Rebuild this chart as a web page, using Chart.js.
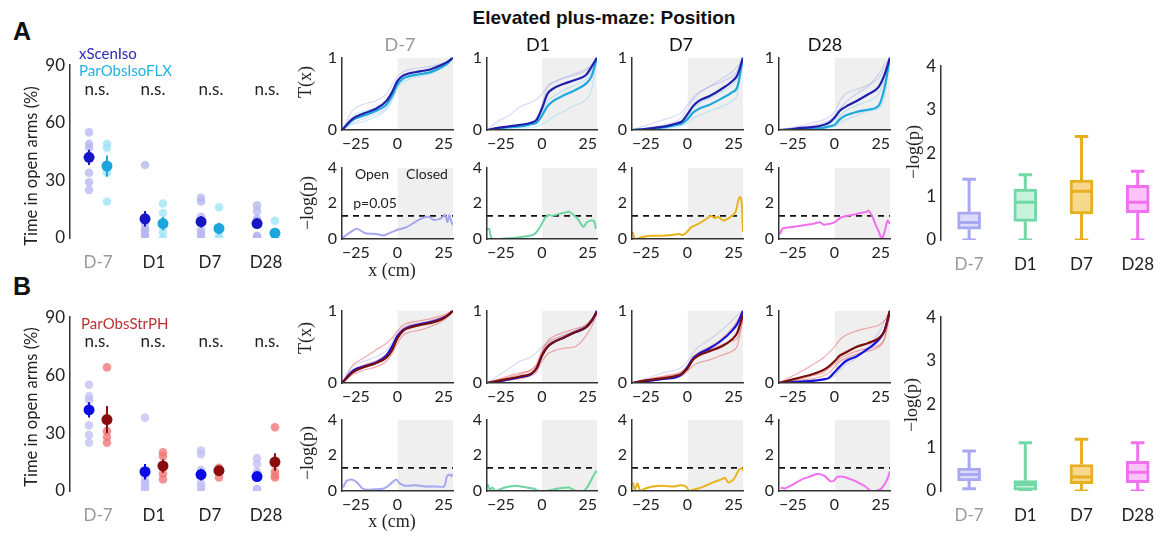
<!DOCTYPE html>
<html><head><meta charset="utf-8">
<script src="https://cdn.jsdelivr.net/npm/chart.js@4.4.1/dist/chart.umd.min.js"></script>
<style>
html,body{margin:0;padding:0;background:#fff;width:1164px;height:537px;overflow:hidden;position:relative;font-family:Lato,sans-serif;}
canvas{position:absolute;}
.t{position:absolute;white-space:nowrap;transform:translate(-50%,-50%);line-height:1;color:#222;}
.l{transform:translate(0,-50%);}
.r{transform:translate(-50%,-50%) rotate(-90deg);}
.serif{font-family:"Liberation Serif",serif;}
</style></head><body>
<script>
// ---------- DATA ----------
const cats = ['D-7','D1','D7','D28'];
// dot plots (time in open arms, %)
const scenMean = [42, 10, 8.5, 7.5];
const scenSE = [4, 4, 3, 2];
const scenPts = [[55,49,47,34,29,25],[38,8,5,4,2,1],[21,19,11,4,2,0],[17,14,10,9,1,1]];
const isoMean = [37.5, 7.5, 5, 2.5];
const isoSE = [5.5, 3.5, 3, 1.5];
const isoPts = [[49,47,34,19],[18,13,3,0],[16,1,0],[9,1,0]];
const strMean = [37, 13, 10.5, 15];
const strSE = [7, 3.5, 2, 4.5];
const strPts = [[64,31,28,25],[20,18,9,6],[12,10,7],[33,10,8,7]];

// T(x) curves
const tx = [-25,-20,-15,-10,-5,-2.5,0,2.5,5,10,15,20,22.5,25];
const tA_scenMean = [
 [0,0.16,0.23,0.29,0.40,0.52,0.68,0.75,0.78,0.81,0.84,0.90,0.94,1],
 [0,0.03,0.05,0.07,0.10,0.14,0.30,0.50,0.57,0.64,0.69,0.76,0.87,1],
 [0,0.01,0.03,0.05,0.09,0.12,0.22,0.33,0.40,0.47,0.56,0.67,0.76,1],
 [0,0.01,0.03,0.04,0.07,0.10,0.17,0.27,0.32,0.40,0.49,0.60,0.76,1]];
const tA_isoMean = [
 [0,0.14,0.20,0.26,0.35,0.47,0.63,0.71,0.74,0.77,0.80,0.87,0.92,1],
 [0,0.02,0.04,0.05,0.08,0.10,0.20,0.33,0.40,0.48,0.55,0.64,0.74,1],
 [0,0.01,0.02,0.04,0.07,0.09,0.15,0.24,0.29,0.35,0.43,0.52,0.60,1],
 [0,0.00,0.01,0.02,0.03,0.05,0.07,0.15,0.20,0.25,0.28,0.34,0.58,1]];
const tA_scenInd = [
 [[0,0.28,0.36,0.40,0.50,0.62,0.74,0.80,0.83,0.86,0.88,0.92,0.95,1],[0,0.10,0.16,0.22,0.30,0.42,0.60,0.70,0.75,0.80,0.83,0.88,0.93,1]],
 [[0,0.12,0.20,0.32,0.38,0.42,0.50,0.60,0.65,0.72,0.78,0.84,0.90,1],[0,0.02,0.04,0.06,0.08,0.12,0.35,0.60,0.66,0.72,0.76,0.82,0.90,1]],
 [[0,0.05,0.10,0.15,0.20,0.25,0.35,0.45,0.52,0.60,0.70,0.80,0.88,1],[0,0.02,0.04,0.07,0.12,0.18,0.30,0.42,0.50,0.60,0.66,0.74,0.82,1]],
 [[0,0.03,0.06,0.10,0.14,0.18,0.25,0.40,0.50,0.56,0.62,0.72,0.85,1],[0,0.02,0.04,0.06,0.10,0.13,0.20,0.30,0.38,0.50,0.60,0.78,0.90,1]]];
const tA_isoInd = [
 [[0,0.08,0.12,0.18,0.28,0.40,0.58,0.66,0.70,0.74,0.78,0.85,0.90,1],[0,0.20,0.26,0.30,0.38,0.50,0.66,0.74,0.78,0.80,0.83,0.90,0.94,1]],
 [[0,0.01,0.02,0.03,0.04,0.05,0.08,0.12,0.18,0.26,0.34,0.42,0.55,1],[0,0.02,0.05,0.07,0.10,0.14,0.25,0.40,0.46,0.55,0.62,0.70,0.80,1]],
 [[0,0.00,0.01,0.02,0.04,0.06,0.10,0.16,0.20,0.26,0.32,0.40,0.50,1],[0,0.02,0.04,0.06,0.10,0.12,0.20,0.30,0.36,0.44,0.52,0.62,0.72,1]],
 [[0,0.00,0.00,0.01,0.02,0.03,0.05,0.10,0.14,0.20,0.26,0.30,0.45,1],[0,0.01,0.02,0.03,0.05,0.08,0.12,0.20,0.26,0.34,0.40,0.50,0.70,1]]];
const tB_scenMean = [
 [0,0.17,0.23,0.28,0.38,0.50,0.65,0.73,0.77,0.81,0.84,0.89,0.93,1],
 [0,0.02,0.05,0.08,0.12,0.20,0.38,0.50,0.56,0.63,0.70,0.77,0.85,1],
 [0,0.02,0.04,0.06,0.08,0.12,0.22,0.34,0.40,0.48,0.58,0.72,0.82,1],
 [0,0.01,0.02,0.03,0.05,0.07,0.15,0.23,0.30,0.37,0.47,0.60,0.72,1]];
const tB_strMean = [
 [0,0.15,0.22,0.27,0.35,0.45,0.62,0.72,0.76,0.80,0.83,0.88,0.93,1],
 [0,0.03,0.06,0.09,0.13,0.20,0.38,0.50,0.56,0.63,0.70,0.77,0.86,0.98],
 [0,0.03,0.05,0.07,0.10,0.13,0.20,0.32,0.38,0.44,0.50,0.60,0.70,0.95],
 [0,0.04,0.08,0.12,0.18,0.23,0.30,0.38,0.42,0.50,0.55,0.62,0.72,1]];
const tB_scenInd = [
 [[0,0.24,0.30,0.36,0.45,0.56,0.70,0.76,0.80,0.83,0.86,0.90,0.94,1]],
 [[0,0.10,0.20,0.30,0.36,0.42,0.50,0.56,0.60,0.66,0.72,0.80,0.88,1]],
 [[0,0.05,0.10,0.15,0.18,0.22,0.30,0.42,0.50,0.60,0.72,0.86,0.94,1]],
 [[0,0.01,0.02,0.03,0.04,0.06,0.10,0.18,0.25,0.35,0.50,0.70,0.85,1]]];
const tB_strInd = [
 [[0,0.25,0.35,0.45,0.55,0.62,0.72,0.80,0.83,0.86,0.89,0.93,0.96,1],[0,0.12,0.18,0.22,0.30,0.40,0.55,0.66,0.70,0.73,0.78,0.85,0.91,1],[0,0.18,0.25,0.30,0.40,0.52,0.66,0.75,0.79,0.82,0.86,0.91,0.95,1]],
 [[0,0.04,0.08,0.12,0.18,0.26,0.45,0.58,0.64,0.70,0.75,0.80,0.88,0.98],[0,0.02,0.04,0.06,0.10,0.15,0.30,0.40,0.44,0.48,0.50,0.65,0.78,0.95],[0,0.05,0.10,0.14,0.18,0.24,0.42,0.55,0.60,0.66,0.72,0.80,0.88,1]],
 [[0,0.04,0.07,0.10,0.13,0.16,0.24,0.36,0.42,0.50,0.60,0.75,0.86,1],[0,0.02,0.04,0.06,0.08,0.10,0.16,0.24,0.28,0.32,0.38,0.44,0.52,0.90],[0,0.03,0.06,0.09,0.12,0.16,0.22,0.34,0.40,0.46,0.52,0.58,0.62,0.88]],
 [[0,0.08,0.16,0.25,0.35,0.42,0.50,0.60,0.66,0.72,0.76,0.80,0.86,1],[0,0.02,0.04,0.06,0.10,0.14,0.22,0.30,0.34,0.40,0.44,0.50,0.60,0.95],[0,0.03,0.06,0.10,0.14,0.20,0.26,0.34,0.38,0.44,0.48,0.52,0.62,0.98]]];

// -log(p) curves
const pThresh = 1.3;
const pA_x = [
 [-25,-18.5,-14.5,-9.6,-6.4,-2.3,0.4,4.2,10,14,16.5,19.8,21.4,22.5,23.3,24.3,25],
 [-25,-24,-23,-20,-15,-10.4,-5.6,-3.3,-0.9,1.5,3,4.6,7,10.2,12.5,14,16.4,18.8,20.4,22,23.7,24.5],
 [-24.7,-23.9,-22.8,-20.7,-16.7,-11.9,-7,-3.8,-2.2,-0.6,1.8,4.2,7.4,10.6,12.2,13.8,16.2,18.6,20.2,21.8,23.1,23.9,24.5,25],
 [-24.5,-23.4,-19,-14.4,-9.7,-6.6,-5,-1.9,0.5,2.8,5.9,9,12.2,14.5,15.3,16.9,18.4,20,21.2,22.3,23.9,25]];
const pA_y = [
 [0.05,0.58,0.32,0.28,0.20,0.40,0.53,0.67,1.10,1.24,1.06,1.17,1.38,0.94,1.35,0.94,0.76],
 [0.55,0.58,0.05,0,0.04,0.10,0.18,0.28,0.67,1.20,1.35,1.30,1.38,1.47,1.52,1.38,1.10,0.67,0.94,1.03,1.00,0.58],
 [0.40,0.05,0,0.10,0.18,0.18,0.23,0.28,0.23,0.35,0.67,0.81,1.03,1.30,1.17,1.24,1.03,1.17,1.30,1.56,2.27,2.35,1.90,0.40],
 [0.28,0.58,0.67,0.76,0.85,0.94,0.81,0.85,0.97,1.20,1.30,1.38,1.47,1.52,1.60,1.30,0.85,0.40,0,0.28,1.03,0.85]];
const pB_x = [
 [-24.5,-23,-20.6,-18.2,-15.8,-13.4,-9.4,-6.2,-3.8,-1.7,-0.6,1,3.4,8.2,13,17.8,21,22.3,23.4,24.2,25],
 [-24.7,-23.7,-22.6,-21,-16.9,-12,-7.1,-3.9,-1.5,2.6,7.5,12.3,14,15.6,18.8,20.5,22.9,24.5,25],
 [-24.5,-23.7,-22.5,-21.3,-19,-15.8,-11,-6.3,-3.1,-0.7,0.9,2.5,6.4,11.2,15.2,16.8,18.4,20.8,23.2,24.5,25],
 [-24.2,-22.6,-19.4,-14.7,-10.7,-7.5,-4.4,-2,-0.4,1.2,4.4,7.5,10.7,13.9,16.3,18.7,21.1,23.4,25]];
const pB_y = [
 [0.20,0.56,0.65,0.47,0.14,0.07,0.10,0.14,0.32,0.56,0.65,0.43,0.29,0.32,0.25,0.25,0.25,0.83,0.92,0.83,0.95],
 [0.38,0.07,0.20,0,0.20,0.29,0.20,0.14,0,0.02,0.14,0.20,0.07,0,0,0.20,0.74,1.10,1.05],
 [0.47,0.07,0.43,0.02,0.14,0.25,0.29,0.25,0.32,0.25,0,0.07,0.20,0.47,0.65,0.74,0.47,0.65,1.19,1.28,1.15],
 [0.20,0.14,0.32,0.65,0.83,0.97,0.83,0.56,0.56,0.79,0.79,0.65,0.47,0.25,0,0,0.14,0.56,1.10]];

// box plots of -log(p)
const boxA_min = [0,0,0,0], boxA_q1 = [0.25,0.43,0.60,0.63], boxA_med = [0.40,0.87,1.12,0.87], boxA_q3 = [0.65,1.17,1.38,1.26], boxA_max = [1.40,1.50,2.38,1.58];
const boxB_min = [0.05,0,0,0], boxB_q1 = [0.23,0.02,0.17,0.19], boxB_med = [0.38,0.15,0.32,0.43], boxB_q3 = [0.53,0.24,0.61,0.68], boxB_max = [0.92,1.11,1.19,1.11];
const shadeX = [0, 25];

// ---------- STYLE ----------
const pColors = ['#a6a6f2','#6cd6a0','#e8b41e','#f070ee'];
const boxStroke = ['#a8a8f2','#72d8a6','#e6b022','#f070f0'];
const boxFill = ['#dcdcfa','#c8f2dc','#f6d98c','#fcc2fc'];
const AX = '#333';
Chart.defaults.font.family = 'Lato';
Chart.defaults.font.size = 17;
Chart.defaults.color = '#222';

function mk(area, yW, xH, type, datasets, scales) {
  const padT = 12, padR = 14;
  const left = area[0]-yW, top = area[1]-padT;
  const w = area[2]-area[0]+yW+padR, h = area[3]-area[1]+padT+xH;
  const cv = document.createElement('canvas');
  cv.width = w; cv.height = h;
  cv.style.left = left+'px'; cv.style.top = top+'px';
  cv.style.width = w+'px'; cv.style.height = h+'px';
  document.body.appendChild(cv);
  scales.x.afterFit = s => { s.height = xH; };
  scales.y.afterFit = s => { s.width = yW; };
  return new Chart(cv, {type, data:{datasets}, options:{
    responsive:false, devicePixelRatio:1, animation:false,
    layout:{padding:{top:padT, right:padR, left:0, bottom:0}},
    scales, plugins:{legend:{display:false}, tooltip:{enabled:false}}}});
}
const minus = v => String(v).replace('-', '\u2212');
const yAxis = (min, max, step, fs) => ({type:'linear', min, max, ticks:{stepSize:step, padding:5, font:{size:fs||17}, callback:v=>minus(v)},
  grid:{display:true, drawOnChartArea:false, drawTicks:false}, border:{display:true, color:AX, width:1.5, z:1}});
const catAxis = (max) => ({type:'linear', min:0.5, max, offset:false,
  afterBuildTicks: s => { s.ticks = cats.map((c,i)=>({value:i+1})); },
  ticks:{callback:v=>cats[v-1], padding:6, color:ctx=>ctx.index===0?'#999':'#222'},
  grid:{display:false, offset:false}, border:{display:false}});
const xy = (xs, ys) => xs.map((x,i)=>({x, y:ys[i]}));

// ---------- DOT PLOTS ----------
function dotPlot(area, groups) {
  const ds = [];
  groups.forEach(g => {
    ds.push({type:'scatter', data:g.pts.flatMap((a,i)=>a.map(v=>({x:i+1+g.off, y:v}))), pointRadius:4.3, pointBackgroundColor:g.light, pointBorderWidth:0, order:5});
    ds.push({type:'scatter', showLine:true, spanGaps:false, data:g.mean.flatMap((m,i)=>[{x:i+1+g.off,y:m-g.se[i]},{x:i+1+g.off,y:m+g.se[i]},{x:i+1+g.off,y:null}]), borderColor:g.dark, borderWidth:2, pointRadius:0, order:2});
    ds.push({type:'scatter', data:g.mean.map((m,i)=>({x:i+1+g.off, y:m})), pointRadius:5.5, pointBackgroundColor:g.dark, pointBorderWidth:0, order:1});
  });
  mk(area, 40, 30, 'scatter', ds, {x:catAxis(4.5), y:yAxis(0,90,30)});
}
dotPlot([70,62,294,238], [
  {pts:scenPts, mean:scenMean, se:scenSE, off:-0.16, light:'rgba(180,180,240,0.75)', dark:'#1616c4'},
  {pts:isoPts, mean:isoMean, se:isoSE, off:0.16, light:'rgba(160,228,248,0.8)', dark:'#1aa6dc'}]);
dotPlot([70,314,294,491], [
  {pts:scenPts, mean:scenMean, se:scenSE, off:-0.16, light:'rgba(190,190,244,0.75)', dark:'#0a0ae6'},
  {pts:strPts, mean:strMean, se:strSE, off:0.16, light:'rgba(240,120,120,0.8)', dark:'#8a0c0c'}]);

// ---------- T(x) and -log(p) PANELS ----------
const colsX = [[342,453],[487,597],[632,743],[779,890]];
const xAxisT = () => ({type:'linear', min:-25, max:25, ticks:{stepSize:25, align:'inner', padding:4, font:{size:16}, callback:v=>minus(v)},
  grid:{display:true, drawOnChartArea:false, drawTicks:false}, border:{display:true, color:AX, width:1.5, z:1}});
const shade = top => ({data:shadeX.map(x=>({x, y:top})), fill:'origin', backgroundColor:'#efefef', borderWidth:0, pointRadius:0, order:20});
const curve = (ys, color, w, ord) => ({data:xy(tx, ys), borderColor:color, borderWidth:w, pointRadius:0, cubicInterpolationMode:'monotone', fill:false, order:ord});

function tPanel(area, means, inds) {
  const ds = [shade(1)];
  inds.forEach(([arrs,col]) => arrs.forEach(a => ds.push(curve(a, col, 1.2, 10))));
  means.forEach(([a,col],k) => ds.push(curve(a, col, 2.2, 2-k)));
  mk(area, 22, 30, 'line', ds, {x:xAxisT(), y:yAxis(0,1,1,16)});
}
function pPanel(area, xs, ys, col) {
  const ds = [shade(4),
    {data:[-25,25].map(x=>({x, y:pThresh})), borderColor:'#111', borderWidth:1.8, borderDash:[6,5], pointRadius:0, fill:false, order:2},
    {data:xy(xs, ys), borderColor:col, borderWidth:2, pointRadius:0, tension:0.2, fill:false, order:1}];
  mk(area, 22, 30, 'line', ds, {x:xAxisT(), y:yAxis(0,4,2,16)});
}
colsX.forEach((cx,i) => {
  tPanel([cx[0],55,cx[1],130], [[tA_isoMean[i],'#1ea8dc'],[tA_scenMean[i],'#2020ae']],
    [[tA_scenInd[i],'rgba(150,150,232,0.35)'],[tA_isoInd[i],'rgba(120,210,240,0.4)']]);
  pPanel([cx[0],165,cx[1],239], pA_x[i], pA_y[i], pColors[i]);
  tPanel([cx[0],308,cx[1],383], [[tB_scenMean[i],'#1414e0'],[tB_strMean[i],'#7a0c0c']],
    [[tB_scenInd[i],'rgba(150,150,232,0.35)'],[tB_strInd[i],'rgba(232,90,90,0.5)']]);
  pPanel([cx[0],417,cx[1],491], pB_x[i], pB_y[i], pColors[i]);
});

// ---------- BOX PLOTS ----------
function boxChart(area, mn, q1, md, q3, mx) {
  const ds = [{type:'bar', data:cats.map((c,i)=>({x:i+1, y:[q1[i], q3[i]]})), backgroundColor:boxFill, borderColor:boxStroke,
    borderWidth:3, borderSkipped:false, barThickness:23, order:2}];
  cats.forEach((c,i) => {
    const x = i+1, cw = 0.12, mw = 0.2;
    ds.push({type:'line', data:[{x,y:mn[i]},{x,y:q1[i]},{x,y:null},{x,y:q3[i]},{x,y:mx[i]},{x,y:null},
      {x:x-cw,y:mx[i]},{x:x+cw,y:mx[i]},{x,y:null},{x:x-cw,y:mn[i]},{x:x+cw,y:mn[i]},{x,y:null},
      {x:x-mw,y:md[i]},{x:x+mw,y:md[i]}], borderColor:boxStroke[i], borderWidth:3, pointRadius:0, spanGaps:false, fill:false, order:1});
  });
  mk(area, 24, 30, 'bar', ds, {x:catAxis(4.45), y:yAxis(0,4,1)});
}
boxChart([941,63,1163,240], boxA_min, boxA_q1, boxA_med, boxA_q3, boxA_max);
boxChart([941,314,1163,491], boxB_min, boxB_q1, boxB_med, boxB_q3, boxB_max);

// ---------- TEXT ----------
function txt(s, x, y, style, cls) {
  const d = document.createElement('div');
  d.className = 't ' + (cls||'');
  d.textContent = s;
  d.style.left = x+'px'; d.style.top = y+'px';
  Object.assign(d.style, style||{});
  document.body.appendChild(d);
}
txt('Elevated plus-maze: Position', 604, 17, {fontFamily:'"Liberation Sans",Arial,sans-serif', fontWeight:'bold', fontSize:'19px', color:'#111'});
txt('A', 22, 31, {fontFamily:'"Liberation Sans",Arial,sans-serif', fontWeight:'bold', fontSize:'25px', color:'#111'});
txt('B', 22, 286, {fontFamily:'"Liberation Sans",Arial,sans-serif', fontWeight:'bold', fontSize:'25px', color:'#111'});
txt('xScenIso', 79, 53, {fontSize:'15px', color:'#2a2ab8'}, 'l');
txt('ParObsIsoFLX', 79, 70, {fontSize:'15px', color:'#22b2e2'}, 'l');
txt('ParObsStrPH', 81, 323, {fontSize:'15px', color:'#c03030'}, 'l');
[97,153,211,267].forEach(x => { txt('n.s.', x, 88, {fontSize:'17px'}); txt('n.s.', x, 340, {fontSize:'17px'}); });
txt('Time in open arms (%)', 31, 166, {fontSize:'16.5px'}, 'r');
txt('Time in open arms (%)', 31, 407, {fontSize:'16.5px'}, 'r');
[['D-7',400,'#999'],['D1',538,'#111'],['D7',681,'#111'],['D28',825,'#111']].forEach(([s,x,c]) => txt(s, x, 44, {fontSize:'18px', color:c}));
txt('T(x)', 305, 82, {fontSize:'18px'}, 'serif r');
txt('T(x)', 305, 338, {fontSize:'18px'}, 'serif r');
txt('\u2212log(p)', 307, 203, {fontSize:'18px'}, 'serif r');
txt('\u2212log(p)', 307, 453, {fontSize:'18px'}, 'serif r');
txt('x (cm)', 392, 270, {fontSize:'18px'}, 'serif');
txt('x (cm)', 392, 521, {fontSize:'18px'}, 'serif');
txt('Open', 372, 174, {fontSize:'14px'});
txt('Closed', 427, 174, {fontSize:'14px'});
txt('p=0.05', 375, 203, {fontSize:'14px'});
txt('\u2212log(p)', 913, 152, {fontSize:'18px'}, 'serif r');
txt('\u2212log(p)', 911, 405, {fontSize:'18px'}, 'serif r');
</script></body></html>
